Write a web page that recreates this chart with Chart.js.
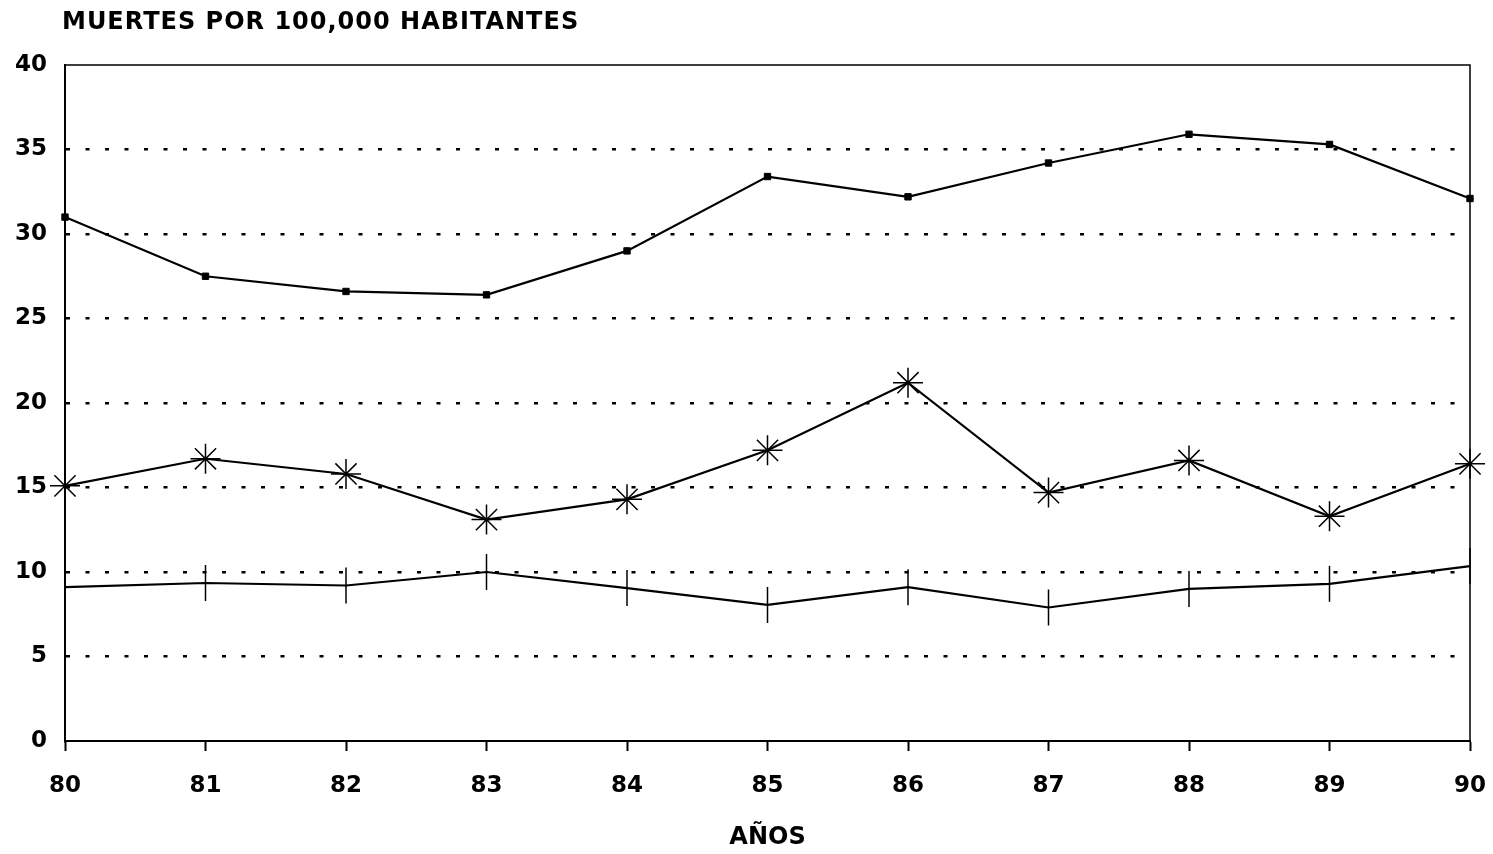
<!DOCTYPE html>
<html>
<head>
<meta charset="utf-8">
<script src="https://cdn.jsdelivr.net/npm/chart.js@4"></script>
<style>
  html, body { margin: 0; padding: 0; background: #fff; }
  #wrap { width: 1493px; height: 854px; }
</style>
</head>
<body>
<div id="wrap"><canvas id="chart" width="1493" height="854"></canvas></div>
<script>
// datos
const anios = ['80', '81', '82', '83', '84', '85', '86', '87', '88', '89', '90'];
const serieAlta = [31.0, 27.5, 26.6, 26.4, 29.0, 33.4, 32.2, 34.2, 35.9, 35.3, 32.1];
const serieMedia = [15.1, 16.7, 15.8, 13.1, 14.3, 17.2, 21.2, 14.7, 16.6, 13.3, 16.4];
const serieBaja = [9.1, 9.35, 9.2, 10.0, 9.05, 8.05, 9.1, 7.9, 9.0, 9.3, 10.35];
const tituloY = 'MUERTES POR 100,000 HABITANTES';
const tituloX = 'AÑOS';

const fuente = '"DejaVu Sans", "Liberation Sans", Arial, sans-serif';

// marco superior/derecho y titulo arriba a la izquierda
const marco = {
  id: 'marco',
  afterDraw(chart) {
    const { ctx, chartArea: a } = chart;
    ctx.save();
    ctx.strokeStyle = '#000';
    ctx.lineWidth = 1.5;
    ctx.beginPath();
    ctx.moveTo(a.left, a.top);
    ctx.lineTo(a.right, a.top);
    ctx.lineTo(a.right, a.bottom);
    ctx.stroke();
    ctx.fillStyle = '#000';
    ctx.font = 'bold 24px ' + fuente;
    ctx.letterSpacing = '1px';
    ctx.textBaseline = 'middle';
    ctx.fillText(tituloY, a.left - 3, 23);
    ctx.restore();
  }
};

let myChart = new Chart(document.getElementById('chart').getContext('2d'), {
  type: 'line',
  data: {
    labels: anios,
    datasets: [
      {
        data: serieAlta,
        borderColor: '#000',
        backgroundColor: '#000',
        borderWidth: 2.2,
        pointStyle: 'rect',
        pointRadius: 4.5,
        pointBorderWidth: 1,
        tension: 0,
        clip: false
      },
      {
        data: serieMedia,
        borderColor: '#000',
        backgroundColor: '#000',
        borderWidth: 2.2,
        pointStyle: 'star',
        pointRadius: 15,
        pointBorderWidth: 1.5,
        tension: 0,
        clip: false
      },
      {
        data: serieBaja,
        borderColor: '#000',
        backgroundColor: '#000',
        borderWidth: 2.2,
        pointStyle: 'line',
        pointRotation: 90,
        pointRadius: 18,
        pointBorderWidth: 1.5,
        tension: 0,
        clip: false
      }
    ]
  },
  options: {
    responsive: false,
    animation: false,
    layout: { padding: { left: 0, right: 23, top: 65, bottom: 0 } },
    plugins: {
      legend: { display: false },
      tooltip: { enabled: false }
    },
    scales: {
      x: {
        type: 'category',
        offset: false,
        afterFit: (s) => { s.height = 113; s.paddingLeft = 0; s.paddingRight = 0; },
        grid: {
          drawOnChartArea: false,
          drawTicks: true,
          tickLength: 10,
          tickColor: '#000',
          tickWidth: 2
        },
        border: { color: '#000', width: 2 },
        ticks: {
          color: '#000',
          padding: 21,
          maxRotation: 0,
          font: { family: fuente, size: 23, weight: 'bold' }
        },
        title: {
          display: true,
          text: tituloX,
          color: '#000',
          padding: { top: 0, bottom: 2 },
          font: { family: fuente, size: 24, weight: 'bold' }
        }
      },
      y: {
        min: 0,
        max: 40,
        afterFit: (s) => { s.width = 65; },
        grid: {
          drawTicks: false,
          color: (c) => (c.tick.value === 0 || c.tick.value === 40) ? 'rgba(0,0,0,0)' : '#000',
          lineWidth: 2.5
        },
        border: { color: '#000', width: 2, dash: [4, 15.5] },
        ticks: {
          stepSize: 5,
          color: '#000',
          padding: 18,
          font: { family: fuente, size: 23, weight: 'bold' }
        }
      }
    }
  },
  plugins: [marco]
});
</script>
</body>
</html>
